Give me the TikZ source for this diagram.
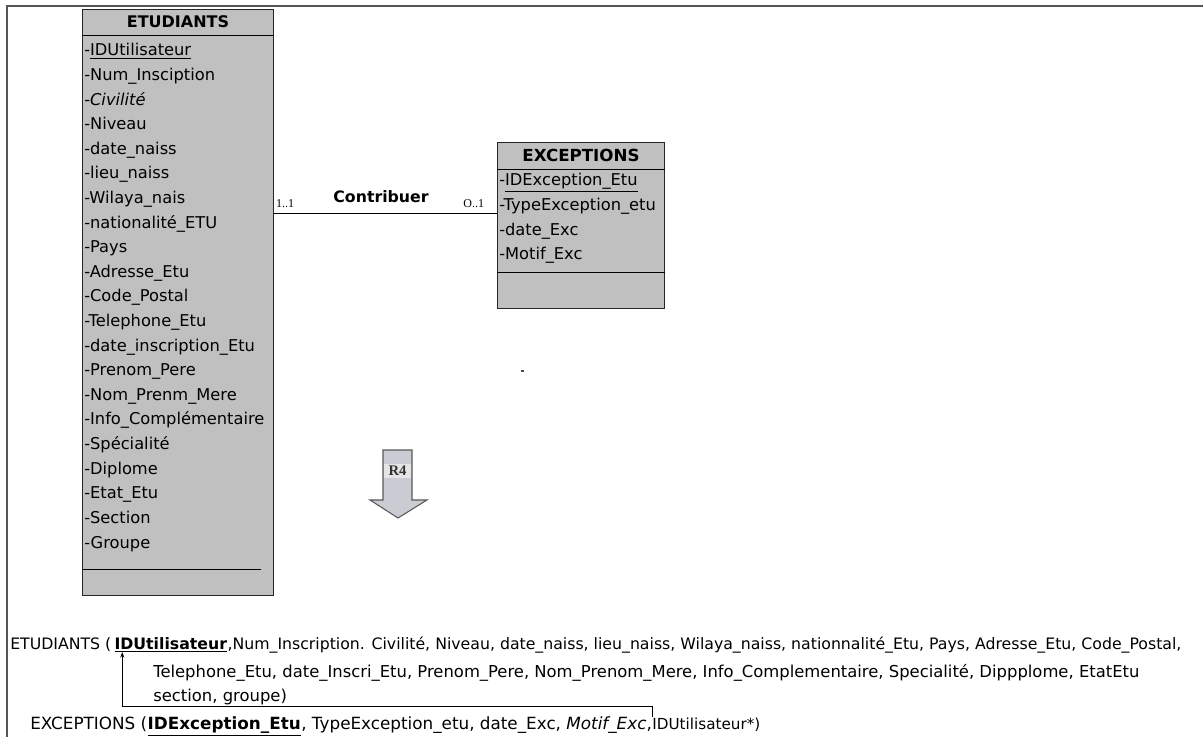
\documentclass[tikz,border=0pt]{standalone}
\usepackage{fontspec}
\setmainfont{DejaVu Sans}
\newfontfamily\cardfont{Liberation Serif}
\usepackage{xcolor}
\usepackage{tikz}
\usetikzlibrary{arrows.meta, positioning, calc}
\definecolor{classgray}{HTML}{C0C0C0}
\definecolor{arrowfill}{HTML}{C9CCD2}
\definecolor{framegray}{HTML}{555555}
\tikzset{
  classbox/.style  = {rectangle, draw=black!85, fill=classgray, line width=0.7pt,
                      inner sep=0pt, anchor=north west},
  classname/.style = {font=\fontsize{12}{14}\selectfont\bfseries, inner sep=1pt},
  attr/.style      = {anchor=west, font=\fontsize{12.2}{14}\selectfont, inner sep=0pt,
                      text height=9pt, text depth=3pt},
  card/.style      = {font=\cardfont\fontsize{9}{10}\selectfont, inner sep=1.5pt},
  relname/.style   = {font=\fontsize{11.8}{13}\selectfont\bfseries, inner sep=1pt},
  reltext/.style   = {font=\fontsize{11.8}{14}\selectfont, inner sep=0pt, anchor=base west},
  exctext/.style   = {font=\fontsize{12.6}{14}\selectfont, inner sep=0pt, anchor=base west},
  link/.style      = {line width=0.6pt},
  sepline/.style   = {line width=0.6pt},
  fkarr/.style     = {-{Stealth[length=4pt, width=3pt]}, line width=0.6pt},
}

\begin{document}
\begin{tikzpicture}[x=0.75pt, y=-0.75pt]
  \useasboundingbox (0,0) rectangle (1203,737);
  % frame
  \draw[framegray, line width=1.1pt] (7,737) -- (7,6) -- (1203,6);

  % class ETUDIANTS
  \node[classbox, minimum width=143.25pt, minimum height=439.5pt] (etu) at (82,9) {};
  \draw[sepline] ($(etu.north west)+(0,26)$) -- ($(etu.north east)+(0,26)$);
  \node[classname] (etu-name) at ($(etu.north)+(0,13)$) {ETUDIANTS};
  \foreach \attr [count=\i from 0] in {{\underline{IDUtilisateur}}, Num\_Insciption,
      {\itshape Civilité}, Niveau, date\_naiss, lieu\_naiss, Wilaya\_nais,
      nationalité\_ETU, Pays, Adresse\_Etu, Code\_Postal, Telephone\_Etu,
      date\_inscription\_Etu, Prenom\_Pere, Nom\_Prenm\_Mere,
      Info\_Complémentaire, Spécialité, Diplome, Etat\_Etu, Section, Groupe}
    \node[attr] (etu-\i) at (84,{52+24.6*\i}) {-\attr};
  \draw[sepline] (83,569) -- (261,569);

  % class EXCEPTIONS
  \node[classbox, minimum width=125.25pt, minimum height=124.5pt] (exc) at (497,142) {};
  \draw[sepline] ($(exc.north west)+(0,27)$) -- ($(exc.north east)+(0,27)$);
  \node[classname, font=\fontsize{12.5}{14}\selectfont\bfseries] (exc-name)
    at ($(exc.north)+(0,13)$) {EXCEPTIONS};
  \foreach \attr [count=\i from 0] in {{\underline{IDException\_Etu}},
      TypeException\_etu, date\_Exc, Motif\_Exc}
    \node[attr] (exc-\i) at (499,{182+24.6*\i}) {-\attr};
  \draw[sepline] ($(exc.north west)+(0,130)$) -- ($(exc.north east)+(0,130)$);

  % association
  \coordinate (lk) at (380,213);
  \draw[link] (etu.east |- lk) -- (exc.west |- lk);
  \node[card, anchor=south west, yshift=2pt] (card-etu) at (etu.east |- lk) {1..1};
  \node[card, anchor=south east, yshift=2pt, xshift=-8pt] (card-exc)
    at (exc.west |- lk) {O..1};
  \node[relname] (contrib) at (381,197) {Contribuer};

  \fill[black!70] (521,370) rectangle (524,372);

  % R4 arrow
  \draw[fill=arrowfill, draw=black!65, line width=0.8pt]
    (383,450) -- (412,450) -- (412,500) -- (427,500) -- (398,518)
    -- (370,500) -- (383,500) -- cycle;
  \node[font=\cardfont\fontsize{11}{12}\selectfont\bfseries, fill=black!10,
        text=black!80, minimum width=20.5pt, inner sep=1.5pt] (r4) at (397.5,471) {R4};

  % relational schema
  \node[reltext] (etu-rel) at (10,649) {ETUDIANTS (\,};
  \node[reltext, font=\fontsize{11.8}{14}\selectfont\bfseries] (pk)
    at (etu-rel.base east) {\underline{IDUtilisateur}};
  \node[reltext] (etu-rest) at (pk.base east)
    {,Num\_Inscription. Civilité, Niveau, date\_naiss, lieu\_naiss, Wilaya\_naiss, nationnalité\_Etu, Pays, Adresse\_Etu, Code\_Postal,};
  \node[reltext, font=\fontsize{12.3}{14}\selectfont] (etu-l2) at (153,677)
    {Telephone\_Etu, date\_Inscri\_Etu, Prenom\_Pere, Nom\_Prenom\_Mere, Info\_Complementaire, Specialité, Dippplome, EtatEtu};
  \node[reltext, font=\fontsize{12.3}{14}\selectfont] (etu-l3) at (153,701)
    {section, groupe)};
  \node[exctext] (exc-rel) at (30,729) {EXCEPTIONS (};
  \node[exctext, font=\fontsize{12.6}{14}\selectfont\bfseries] (exc-pk)
    at (exc-rel.base east) {\underline{IDException\_Etu}};
  \node[exctext] (exc-rest) at (exc-pk.base east)
    {, TypeException\_etu, date\_Exc, {\itshape Motif\_Exc}, };
  \node[exctext, font=\fontsize{11.4}{13}\selectfont] (fk) at (exc-rest.base east)
    {IDUtilisateur*)};

  % foreign key reference
  \coordinate (fk-turn) at (0,706);
  \draw[fkarr] (fk.north west) -- (fk.north west |- fk-turn)
    -| ($(pk.south west)+(8,0)$);
\end{tikzpicture}
\end{document}
